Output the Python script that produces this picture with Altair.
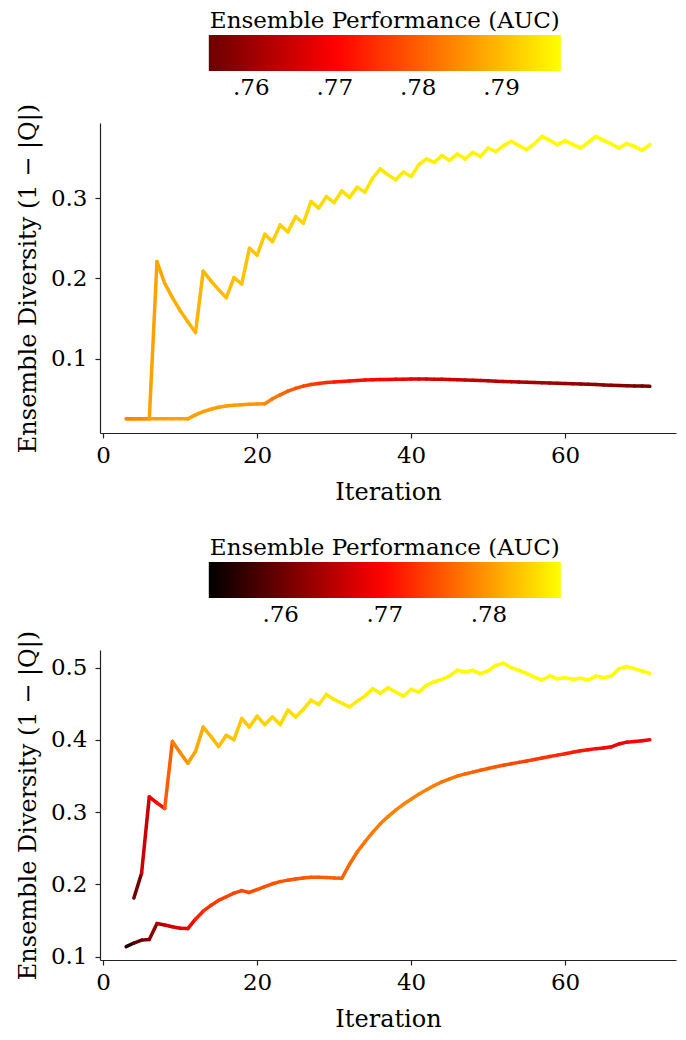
import altair as alt
import pandas as pd

# ---------------- data ----------------
top_iter = list(range(3, 72))
top_upper_div = [0.025, 0.025, 0.025, 0.025, 0.221, 0.194, 0.176, 0.160, 0.146, 0.1325,
                 0.209, 0.197, 0.186, 0.176, 0.201, 0.193, 0.2375, 0.229, 0.255, 0.2458,
                 0.2666, 0.258, 0.277, 0.2687, 0.2958, 0.2875, 0.302, 0.2945, 0.309, 0.301,
                 0.3137, 0.3075, 0.325, 0.3366, 0.329, 0.3229, 0.3325, 0.327, 0.3416, 0.349,
                 0.3446, 0.353, 0.347, 0.355, 0.349, 0.357, 0.352, 0.3625, 0.358, 0.3654,
                 0.3708, 0.3654, 0.3604, 0.3675, 0.377, 0.372, 0.3666, 0.3716, 0.3666, 0.3625,
                 0.3695, 0.377, 0.372, 0.3675, 0.3625, 0.368, 0.3645, 0.3595, 0.3666]
top_upper_auc = [.7840, .7842, .7845, .7850, .7872, .7876, .7880, .7884, .7887, .7889,
                 .7893, .7895, .7897, .7899, .7902, .7904, .7907, .7910, .7913, .7915,
                 .7918, .7920, .7923, .7925, .7928, .7930, .7932, .7934, .7936, .7938,
                 .7940, .7942, .7944, .7946, .7947, .7948, .7950, .7951, .7953, .7954,
                 .7955, .7956, .7957, .7958, .7959, .7960, .7961, .7962, .7963, .7964,
                 .7965, .7965, .7966, .7966, .7967, .7967, .7968, .7968, .7968, .7969,
                 .7969, .7969, .7970, .7970, .7970, .7970, .7971, .7971, .7971]
top_lower_div = [0.025, 0.025, 0.025, 0.025, 0.025, 0.025, 0.025, 0.025, 0.025, 0.030,
                 0.034, 0.037, 0.0395, 0.041, 0.042, 0.0427, 0.0432, 0.0435, 0.0438, 0.050,
                 0.055, 0.0595, 0.063, 0.0658, 0.0678, 0.0692, 0.0703, 0.071, 0.0716, 0.0722,
                 0.0728, 0.0733, 0.0737, 0.074, 0.0742, 0.0744, 0.0745, 0.0746, 0.0746, 0.0746,
                 0.0745, 0.0743, 0.0741, 0.0738, 0.0735, 0.0731, 0.0728, 0.0724, 0.072, 0.0717,
                 0.0713, 0.071, 0.0707, 0.0703, 0.070, 0.0697, 0.0693, 0.069, 0.0687, 0.0683,
                 0.068, 0.0677, 0.0673, 0.067, 0.0667, 0.0664, 0.0661, 0.0658, 0.0655]
top_lower_auc = [.7868, .7869, .7870, .7870, .7871, .7871, .7872, .7872, .7872, .7872,
                 .7871, .7870, .7869, .7868, .7866, .7864, .7862, .7860, .7855, .7840,
                 .7825, .7810, .7797, .7785, .7773, .7762, .7752, .7743, .7728, .7722,
                 .7718, .7714, .7710, .7705, .7700, .7695, .7688, .7680, .7675, .7670,
                 .7665, .7660, .7655, .7651, .7647, .7643, .7639, .7635, .7632, .7628,
                 .7625, .7621, .7617, .7614, .7611, .7608, .7605, .7601, .7598, .7595,
                 .7592, .7589, .7586, .7582, .7578, .7573, .7568, .7562, .7556]

bot_upper_iter = list(range(4, 72))
bot_upper_div = [0.1812, 0.2156, 0.3214, 0.313, 0.3052, 0.398, 0.3827, 0.3678, 0.384, 0.4178,
                 0.405, 0.391, 0.4064, 0.4004, 0.4297, 0.418, 0.4329, 0.4213, 0.4319, 0.4213,
                 0.4412, 0.4319, 0.4422, 0.4551, 0.449, 0.463, 0.456, 0.451, 0.4458, 0.4537,
                 0.4607, 0.4709, 0.4645, 0.4723, 0.4663, 0.4607, 0.470, 0.4663, 0.4756, 0.4806,
                 0.4839, 0.4885, 0.4964, 0.494, 0.4964, 0.4917, 0.4955, 0.5033, 0.5061, 0.500,
                 0.4964, 0.4922, 0.487, 0.4829, 0.4885, 0.4847, 0.4861, 0.4839, 0.4853, 0.4829,
                 0.4885, 0.4861, 0.4885, 0.4987, 0.5015, 0.4987, 0.4955, 0.4922]
bot_upper_auc = [.7600, .7604, .7663, .7680, .7705, .7760, .7780, .7792, .7805, .7812,
                 .7818, .7822, .7825, .7828, .7831, .7833, .7836, .7838, .7840, .7842,
                 .7844, .7846, .7848, .7849, .7851, .7852, .7853, .7854, .7855, .7856,
                 .7857, .7858, .7859, .7860, .7861, .7862, .7863, .7863, .7864, .7864,
                 .7865, .7865, .7865, .7866, .7866, .7866, .7867, .7867, .7867, .7867,
                 .7868, .7868, .7868, .7868, .7868, .7868, .7869, .7869, .7869, .7869,
                 .7869, .7869, .7869, .7869, .7869, .7869, .7869, .7869]

bot_lower_iter = list(range(3, 72))
bot_lower_div = [0.114, 0.119, 0.123, 0.124, 0.146, 0.144, 0.1415, 0.1395, 0.139, 0.152,
                 0.163, 0.171, 0.178, 0.183, 0.188, 0.1915, 0.189, 0.193, 0.197, 0.201,
                 0.204, 0.206, 0.2075, 0.209, 0.210, 0.210, 0.2095, 0.209, 0.2085, 0.228,
                 0.245, 0.259, 0.272, 0.284, 0.294, 0.303, 0.311, 0.318, 0.325, 0.331,
                 0.337, 0.342, 0.346, 0.350, 0.353, 0.3555, 0.358, 0.3605, 0.363, 0.365,
                 0.367, 0.369, 0.371, 0.373, 0.375, 0.377, 0.379, 0.381, 0.383, 0.385,
                 0.3865, 0.388, 0.389, 0.3905, 0.3945, 0.397, 0.398, 0.399, 0.4004]
bot_lower_auc = [.7540, .7552, .7593, .7604, .7624, .7645, .7660, .7670, .7680, .7696,
                 .7718, .7728, .7734, .7738, .7741, .7744, .7746, .7748, .7750, .7751,
                 .7752, .7753, .7754, .7755, .7756, .7757, .7758, .7759, .7760, .7764,
                 .7768, .7772, .7776, .7779, .7781, .7783, .7784, .7785, .7785, .7784,
                 .7782, .7780, .7777, .7774, .7770, .7767, .7763, .7760, .7757, .7754,
                 .7750, .7746, .7742, .7738, .7734, .7730, .7726, .7722, .7718, .7714,
                 .7710, .7706, .7702, .7699, .7690, .7688, .7694, .7696, .7697]

top_ticks_y = [0.1, 0.2, 0.3]
bot_ticks_y = [0.1, 0.2, 0.3, 0.4, 0.5]
x_ticks = [0, 20, 40, 60]
top_legend_vals = [0.76, 0.77, 0.78, 0.79]
bot_legend_vals = [0.76, 0.77, 0.78]

FONT = "DejaVu Serif"


def segments(lines):
    rows = []
    for order, (its, div, auc) in enumerate(lines):
        for i in range(len(its) - 1):
            rows.append({"x": its[i], "x2": its[i + 1], "y": div[i], "y2": div[i + 1],
                         "auc": auc[i + 1], "line": order})
    return pd.DataFrame(rows)


def panel(df, cdomain, crange, ydom, yticks, legend_vals):
    return alt.Chart(df).mark_rule(strokeWidth=3.5, strokeCap="round").encode(
        x=alt.X("x:Q", scale=alt.Scale(domain=[-0.4, 74.4], nice=False, zero=False),
                axis=alt.Axis(values=x_ticks, title="Iteration", grid=False,
                              labelPadding=6, titlePadding=13)),
        x2="x2:Q",
        y=alt.Y("y:Q", scale=alt.Scale(domain=ydom, nice=False, zero=False),
                axis=alt.Axis(values=yticks, format=".1f", grid=False,
                              title="Ensemble Diversity (1 − |Q|)",
                              labelPadding=8, titlePadding=10)),
        y2="y2:Q",
        color=alt.Color("auc:Q",
                        scale=alt.Scale(domain=cdomain, range=crange, interpolate="rgb"),
                        legend=alt.Legend(orient="none", legendX=108.8, legendY=-113,
                                          direction="horizontal", gradientLength=352,
                                          gradientThickness=36, title="Ensemble Performance (AUC)",
                                          titleAnchor="middle", titleOrient="top",
                                          titlePadding=2, titleLimit=600,
                                          titleFontSize=23, titleFontWeight="normal",
                                          titleColor="black", titleFont=FONT,
                                          labelFontSize=23, labelFont=FONT, labelColor="black",
                                          labelOffset=6, labelOverlap=False,
                                          values=legend_vals,
                                          labelExpr="substring(format(datum.value, '.2f'), 1)",
                                          padding=0)),
        order="line:O",
    ).properties(width=576, height=310)


top_df = segments([(top_iter, top_lower_div, top_lower_auc),
                   (top_iter, top_upper_div, top_upper_auc)])
bot_df = segments([(bot_lower_iter, bot_lower_div, bot_lower_auc),
                   (bot_upper_iter, bot_upper_div, bot_upper_auc)])

top = panel(top_df, [0.7549, 0.77012, 0.7971], ["#6c0000", "#ff0000", "#ffff00"],
            [0.0074, 0.3936], top_ticks_y, top_legend_vals)
bot = panel(bot_df, [0.7531, 0.76963, 0.7869], ["#000000", "#ff0000", "#ffff00"],
            [0.0955, 0.5245], bot_ticks_y, bot_legend_vals)

chart = alt.vconcat(top, bot, spacing=33).resolve_scale(color="independent").properties(
    padding={"left": 8, "top": 2, "right": 2, "bottom": 4}
).configure(font=FONT).configure_view(stroke=None).configure_axis(
    labelFont=FONT, titleFont=FONT, labelFontSize=23, titleFontSize=24,
    titleFontWeight="normal", labelColor="black", titleColor="black",
    domainColor="#222222", tickColor="#222222", domainWidth=1.2, tickWidth=1.2, tickSize=5,
)

chart.save("out.html", embed_options={"renderer": "svg", "actions": False})
